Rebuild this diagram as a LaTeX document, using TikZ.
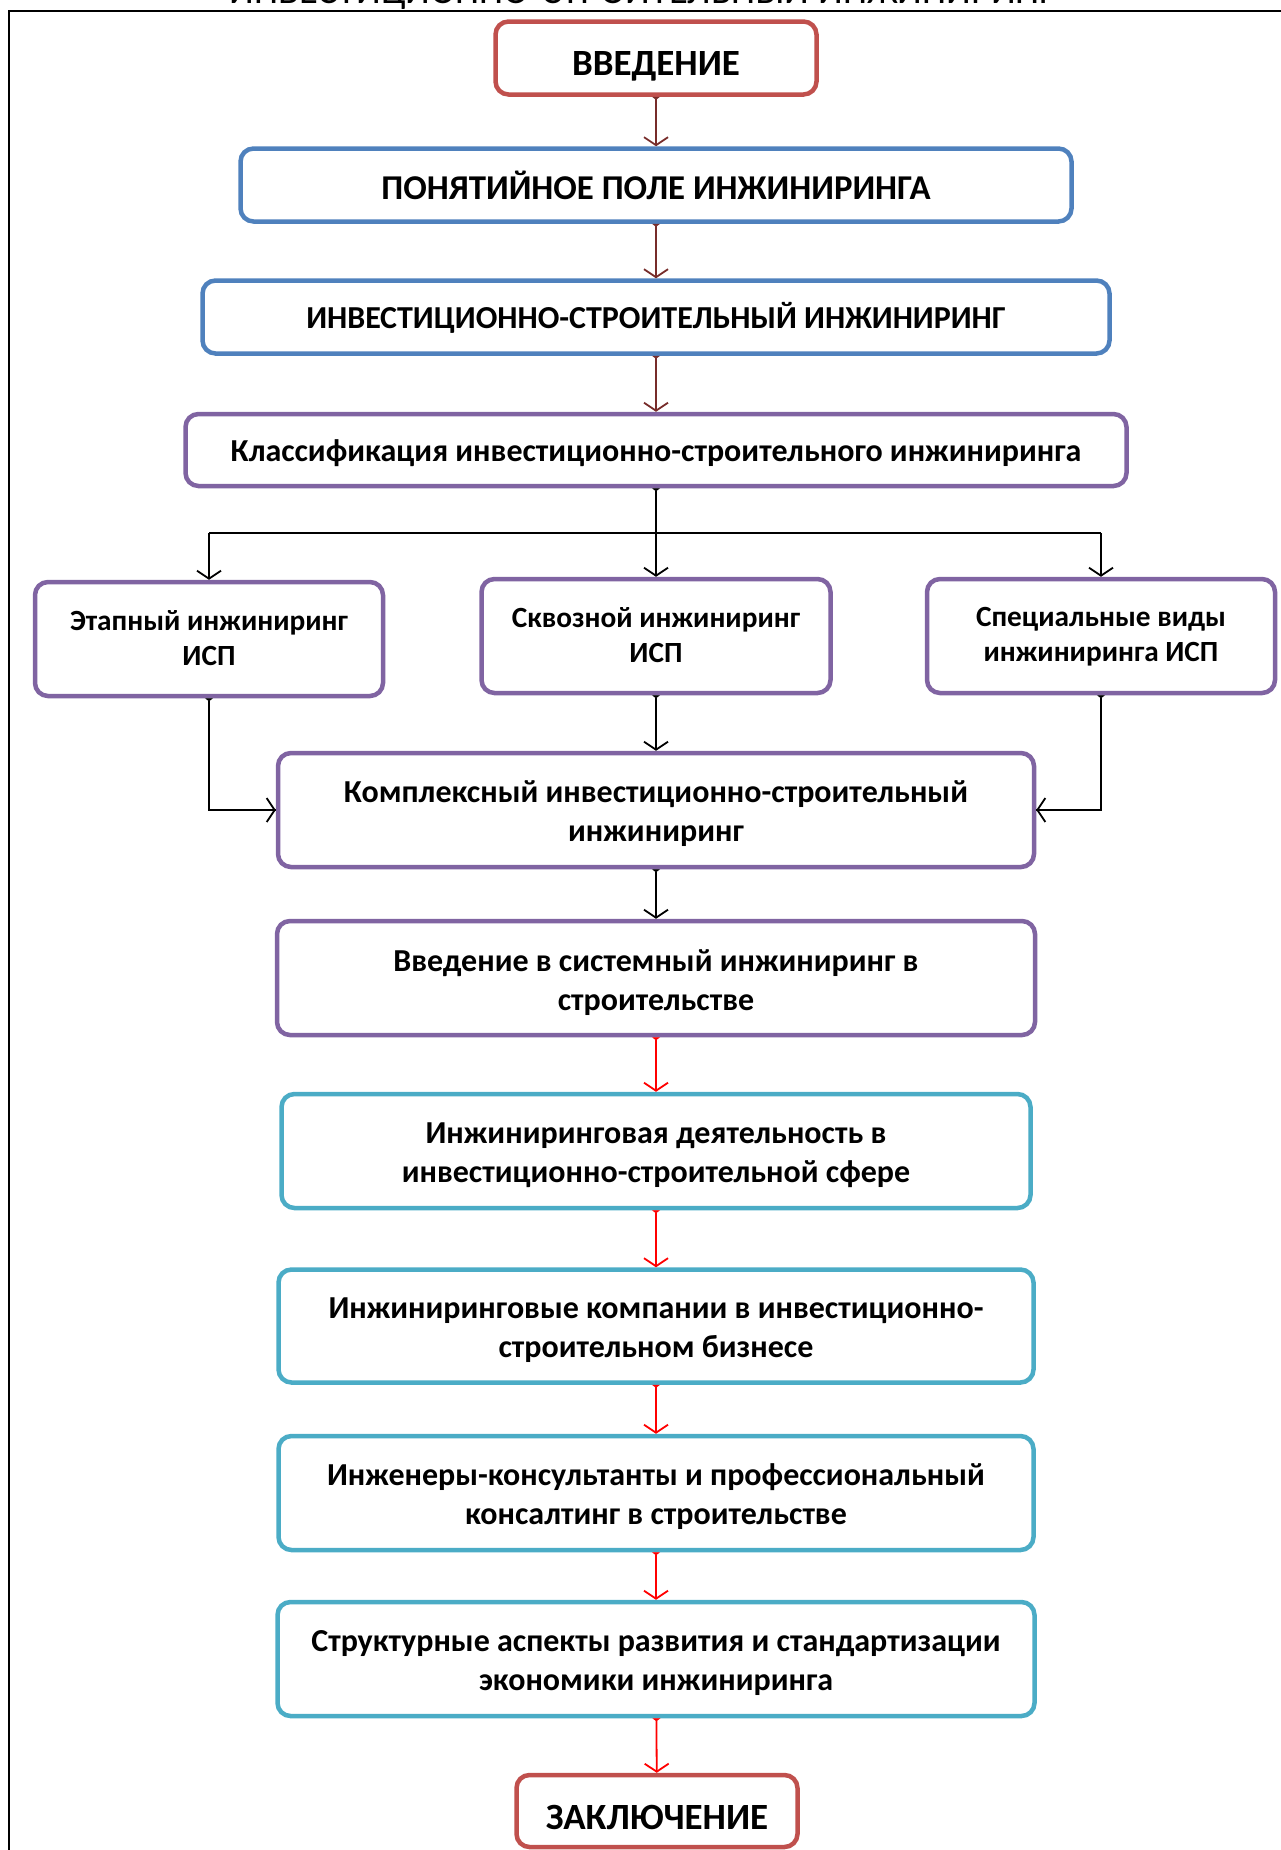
\documentclass[tikz,border=0pt]{standalone}
\usepackage{fontspec}
\setmainfont{Carlito}
\usetikzlibrary{arrows.meta}

\definecolor{boxred}{HTML}{C0504D}
\definecolor{boxblue}{HTML}{4F81BD}
\definecolor{boxpurple}{HTML}{8064A2}
\definecolor{boxteal}{HTML}{4BACC6}
\definecolor{linkdark}{HTML}{772C2A}
\definecolor{linkred}{HTML}{FF0000}

% text lowered inside its box while keeping the box centred
\newcommand\lowered[2]{\raisebox{-#1}[\height][\depth]{#2}}
\newcommand\twolines[3]{\lowered{#1}{\begin{tabular}{@{}c@{}}#2\\#3\end{tabular}}}

\tikzset{
  card/.style={draw=#1, line width=4.5pt, rounded corners=13pt, fill=white,
    align=center, inner sep=0pt, font=\bfseries},
  link/.style={draw=#1, line width=1.8pt,
    {Triangle[reversed,length=3pt,width=8pt]}-{Straight Barb[length=8pt,width=24pt,line width=1.8pt]}},
  plainlink/.style={draw=black, line width=1.8pt,
    -{Straight Barb[length=8pt,width=24pt,line width=1.8pt]}},
  startlink/.style={draw=black, line width=1.8pt,
    {Triangle[reversed,length=3pt,width=8pt]}-},
  big/.style={font=\bfseries\fontsize{37}{42}\selectfont},
  head/.style={font=\bfseries\fontsize{32}{38}\selectfont},
  kind/.style={font=\bfseries\fontsize{29.3}{35}\selectfont},
  step2/.style={font=\bfseries\fontsize{32}{39}\selectfont},
}

\begin{document}
\begin{tikzpicture}[x=1pt,y=-1pt]
\useasboundingbox (0,0) rectangle (1281,1850);

% heading, mostly above the page edge
\node[anchor=base, font=\fontsize{38.5}{42}\selectfont] (title) at (643,3)
  {ИНВЕСТИЦИОННО-СТРОИТЕЛЬНЫЙ ИНЖИНИРИНГ};

% frame
\draw[line width=2.6pt] (9,1852) -- (9,11) -- (1283,11);

% main chain
\node[card=boxred, minimum width=321pt, minimum height=73pt, big] (intro) at (656,58)
  {\lowered{8pt}{ВВЕДЕНИЕ}};
\node[card=boxblue, minimum width=831pt, minimum height=73pt,
  font=\bfseries\fontsize{34.8}{40}\selectfont] (field) at (656,185)
  {ПОНЯТИЙНОЕ ПОЛЕ ИНЖИНИРИНГА};
\node[card=boxblue, minimum width=907pt, minimum height=73pt, head] (ise) at (656,317)
  {\lowered{1pt}{ИНВЕСТИЦИОННО-СТРОИТЕЛЬНЫЙ ИНЖИНИРИНГ}};
\node[card=boxpurple, minimum width=941pt, minimum height=72pt, head] (classes) at (656,450)
  {\lowered{3pt}{Классификация инвестиционно-строительного инжиниринга}};

% three kinds
\node[card=boxpurple, minimum width=348pt, minimum height=114pt, kind] (stage) at (209,639)
  {\twolines{1.5pt}{Этапный инжиниринг}{ИСП}};
\node[card=boxpurple, minimum width=349pt, minimum height=114pt, kind] (through) at (656,636)
  {\twolines{2.4pt}{Сквозной инжиниринг}{ИСП}};
\node[card=boxpurple, minimum width=348pt, minimum height=114pt, kind] (special) at (1101,636)
  {\twolines{1pt}{Специальные виды}{инжиниринга ИСП}};

% lower chain
\node[card=boxpurple, minimum width=756pt, minimum height=114pt, step2] (complex) at (656,810)
  {\twolines{4.5pt}{Комплексный инвестиционно-строительный}{инжиниринг}};
\node[card=boxpurple, minimum width=758pt, minimum height=114pt, step2] (system) at (656,978)
  {\twolines{5pt}{Введение в системный инжиниринг в}{строительстве}};
\node[card=boxteal, minimum width=749pt, minimum height=114pt, step2] (activity) at (656,1151)
  {\twolines{4.5pt}{Инжиниринговая деятельность в}{инвестиционно-строительной сфере}};
\node[card=boxteal, minimum width=755pt, minimum height=113pt, step2] (firms) at (656,1326)
  {\twolines{4.5pt}{Инжиниринговые компании в инвестиционно-}{строительном бизнесе}};
\node[card=boxteal, minimum width=755pt, minimum height=114pt, step2] (consult) at (656,1493)
  {\twolines{4.5pt}{Инженеры-консультанты и профессиональный}{консалтинг в строительстве}};
\node[card=boxteal, minimum width=757pt, minimum height=114pt, step2] (aspects) at (656,1659)
  {\twolines{4.5pt}{Структурные аспекты развития и стандартизации}{экономики инжиниринга}};
\node[card=boxred, minimum width=281pt, minimum height=72pt, big] (outro) at (657,1811)
  {\lowered{6pt}{ЗАКЛЮЧЕНИЕ}};

% connectors
\draw[link=linkdark] (intro) -- (field);
\draw[link=linkdark] (field) -- (ise);
\draw[link=linkdark] (ise) -- (classes);

\coordinate (split) at (656,533);
\draw[link=black] (classes) -- (through);
\draw[line width=1.8pt] (split -| stage.north) -- (split -| special.north);
\draw[plainlink] (split -| stage.north) -- (stage.north);
\draw[plainlink] (split -| special.north) -- (special.north);

\draw[link=black] (through) -- (complex);
\draw[startlink] (stage.south) |- (complex.west);
\draw[plainlink] (complex.west -| stage.south) -- (complex.west);
\draw[startlink] (special.south) |- (complex.east);
\draw[plainlink] (complex.east -| special.south) -- (complex.east);

\draw[link=black] (complex) -- (system);
\draw[link=linkred] (system) -- (activity);
\draw[link=linkred] (activity) -- (firms);
\draw[link=linkred] (firms) -- (consult);
\draw[link=linkred] (consult) -- (aspects);
\draw[link=linkred] (aspects) -- (outro);
\end{tikzpicture}
\end{document}
